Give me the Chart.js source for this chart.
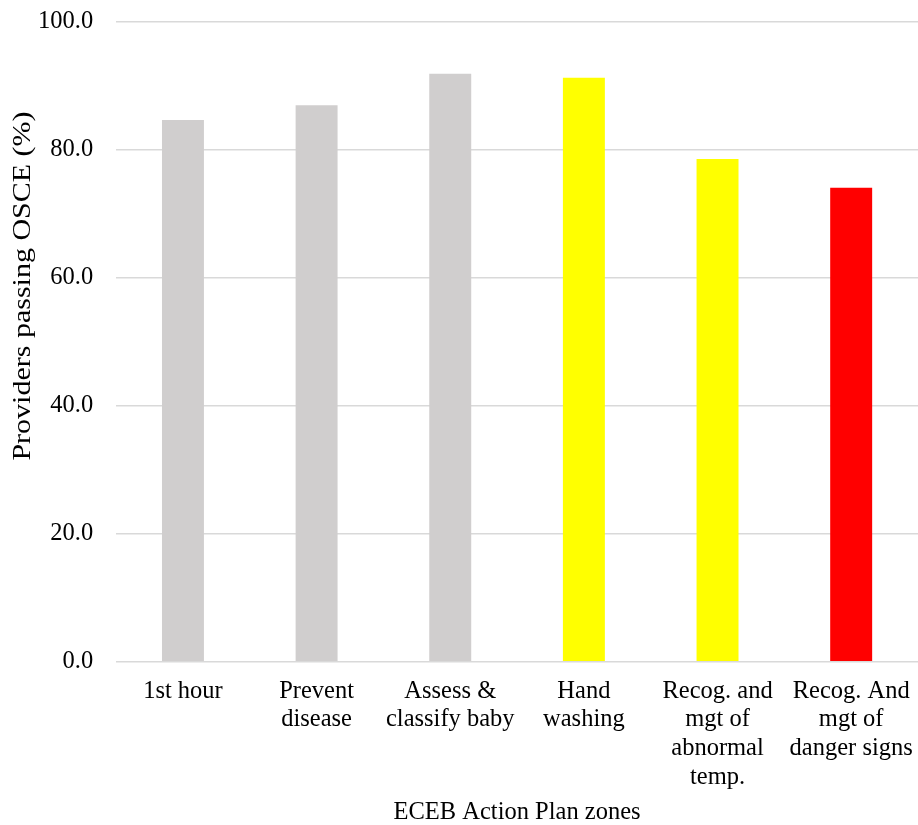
<!DOCTYPE html>
<html>
<head>
<meta charset="utf-8">
<script src="https://cdn.jsdelivr.net/npm/chart.js@4"></script>
<style>
  html, body { margin: 0; padding: 0; background: #fff; }
  #wrap { width: 918px; height: 825px; }
</style>
</head>
<body>
<div id="wrap"><canvas id="chart" width="918" height="825"></canvas></div>
<script>
// zones on the x axis (multi line labels)
const zoneLabels = [
  ['1st hour'],
  ['Prevent', 'disease'],
  ['Assess &', 'classify baby'],
  ['Hand', 'washing'],
  ['Recog. and', 'mgt of', 'abnormal', 'temp.'],
  ['Recog. And', 'mgt of', 'danger signs']
];

// % of providers passing OSCE
const passRates = [84.7, 87.0, 91.9, 91.3, 78.6, 74.1];

const barColors = ['#d0cece', '#d0cece', '#d0cece', '#ffff00', '#ffff00', '#ff0000'];

const yTicks = [0, 20, 40, 60, 80, 100];

const xTitle = 'ECEB Action Plan zones';
const yTitle = 'Providers passing OSCE (%)';

const fontFamily = '"Liberation Serif", "Times New Roman", serif';

// y title is drawn by hand: it sits higher than the plot centre and looks a bit stretched
const yTitlePlugin = {
  id: 'yTitle',
  afterDraw(chart) {
    const ctx = chart.ctx;
    ctx.save();
    ctx.translate(23, 286);
    ctx.rotate(-Math.PI / 2);
    ctx.scale(1.2, 1);
    ctx.font = '25px ' + fontFamily;
    ctx.fillStyle = '#000';
    ctx.textAlign = 'center';
    ctx.textBaseline = 'middle';
    ctx.fillText(yTitle, 0, 0);
    ctx.restore();
  }
};

document.addEventListener('DOMContentLoaded', function () {
  let canvas = document.getElementById('chart');

  new Chart(canvas, {
    type: 'bar',
    data: {
      labels: zoneLabels,
      datasets: [{
        label: yTitle,
        data: passRates,
        backgroundColor: barColors,
        borderWidth: 0,
        barPercentage: 0.314,
        categoryPercentage: 1.0
      }]
    },
    plugins: [yTitlePlugin],
    options: {
      responsive: false,
      animation: false,
      layout: {
        padding: { top: 22, right: 0, bottom: 0, left: 36 }
      },
      scales: {
        x: {
          grid: {
            display: true,
            drawOnChartArea: false,
            drawTicks: true,
            tickLength: 15,
            tickColor: 'rgba(0,0,0,0)',
            color: 'rgba(0,0,0,0)'
          },
          border: { display: false },
          ticks: {
            color: '#000',
            font: { family: fontFamily, size: 24.5, lineHeight: 1.17 },
            padding: 0,
            maxRotation: 0,
            autoSkip: false
          },
          title: {
            display: true,
            text: xTitle,
            color: '#000',
            font: { family: fontFamily, size: 24.5, lineHeight: 1.0 },
            padding: { top: 9, bottom: 0 }
          }
        },
        y: {
          min: 0,
          max: 100,
          afterBuildTicks: function (axis) {
            axis.ticks = yTicks.map(v => ({ value: v }));
          },
          grid: {
            color: '#d9d9d9',
            lineWidth: 1.5,
            drawTicks: true,
            tickLength: 21,
            tickColor: 'rgba(0,0,0,0)'
          },
          border: { display: false },
          ticks: {
            color: '#000',
            font: { family: fontFamily, size: 24.5 },
            padding: 2,
            callback: v => v.toFixed(1)
          },
          title: { display: false }
        }
      },
      plugins: {
        legend: { display: false },
        tooltip: { enabled: false }
      }
    }
  });
});
</script>
</body>
</html>
